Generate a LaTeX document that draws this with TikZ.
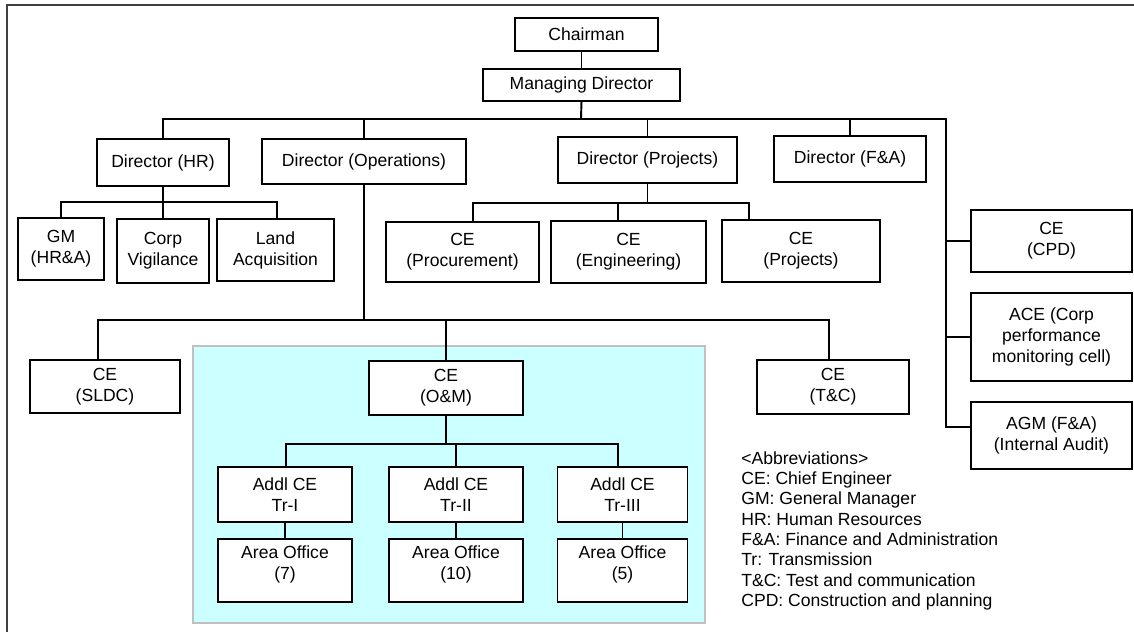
\documentclass[tikz,border=0pt]{standalone}
\usepackage{fontspec}
\setmainfont{Liberation Sans}
\definecolor{omcyan}{HTML}{CCFFFF}
\definecolor{omedge}{HTML}{C0C0C0}
\begin{document}
\begin{tikzpicture}[x=0.02cm, y=-0.02cm,
    orgbox/.style = {rectangle,draw=black,line width=1.1pt,fill=white,align=center,inner sep=0pt,outer sep=0pt,font=\fontsize{10}{12}\selectfont},
    wh/.style 2 args = {minimum width=#1cm,minimum height=#2cm},
    link/.style = {draw=black,line width=1.1pt}]
\useasboundingbox (0,0) rectangle (1134,632);
\clip (0,0) rectangle (1134,632);
\draw[black!75,line width=0.8pt] (7,5) rectangle (1160,660);
% O&M panel
\draw[omedge,fill=omcyan,line width=1.2pt] (193,346) rectangle (705,623);

% top levels
\node[orgbox,wh={2.86}{0.66}] (chair) at (586.5,34.5) {Chairman};
\node[orgbox,wh={3.94}{0.64}] (md) at (581.5,85) {Managing Director};
\node[orgbox,wh={2.64}{0.94}] (dhr) at (163,162.5) {Director (HR)};
\node[orgbox,wh={4.08}{0.90}] (dops) at (364,161.5) {Director (Operations)};
\node[orgbox,wh={3.58}{0.92}] (dprj) at (647.5,160) {Director (Projects)};
\node[orgbox,wh={3.04}{0.92}] (dfa) at (850,159) {Director (F\&A)};

% under directors
\node[orgbox,wh={1.72}{1.24}] (gm) at (61,249) {GM\\(HR\&A)};
\node[orgbox,wh={1.84}{1.28}] (vig) at (163,251) {Corp\\Vigilance};
\node[orgbox,wh={2.34}{1.24}] (land) at (275.5,250) {Land\\Acquisition};
\node[orgbox,wh={3.06}{1.20}] (proc) at (462.5,252) {CE\\(Procurement)};
\node[orgbox,wh={3.10}{1.24}] (eng) at (628.5,252) {CE\\(Engineering)};
\node[orgbox,wh={3.16}{1.24}] (prj) at (801,251) {CE\\(Projects)};
\node[orgbox,wh={3.22}{1.24}] (cpd) at (1051.5,241) {CE\\(CPD)};
\node[orgbox,wh={3.22}{1.76}] (ace) at (1051.5,337) {ACE (Corp\\performance\\monitoring cell)};
\node[orgbox,wh={3.22}{1.34}] (agm) at (1051.5,435.5) {AGM (F\&A)\\(Internal Audit)};
\node[orgbox,wh={3.00}{1.06}] (sldc) at (105,386.5) {CE\\(SLDC)};
\node[orgbox,wh={3.08}{1.08}] (om) at (446,388) {CE\\(O\&M)};
\node[orgbox,wh={3.04}{1.08}] (tc) at (833,387) {CE\\(T\&C)};

\coordinate (topbus) at (581,119);
\coordinate (rtrunk) at (946,119);
\draw[link] (md.north |- chair.south) -- (md.north);
\draw[link] (md.south) -- (topbus);
\draw[link] (dhr.north) |- (rtrunk) |- ([yshift=0.17cm]agm.west);
\foreach \d in {dops, dprj, dfa}
    \draw[link] (\d.north) -- (\d.north |- topbus);
\foreach \r in {cpd, ace}
    \draw[link] (\r.west) -- (\r.west -| rtrunk);

% HR
\coordinate (hrl) at (62,202);
\coordinate (hrr) at (277,202);
\draw[link] (dhr.south) -- (dhr.south |- hrl);
\draw[link] (gm.north) |- (hrr) -- (hrr |- land.north);
\draw[link] (vig.north) -- (vig.north |- hrl);

% Projects
\coordinate (pjl) at (473,203);
\coordinate (pjm) at (618,203);
\coordinate (pjr) at (749,203);
\draw[link] (pjl |- proc.north) -- (pjl) -- (pjr) -- (pjr |- prj.north);
\draw[link] (pjm) -- (pjm |- eng.north);
\draw[link] (dprj.south) -- (dprj.south |- pjm);

% Operations
\coordinate (opl) at (98,320);
\coordinate (opr) at (829,320);
\draw[link] (opl |- sldc.north) -- (opl) -- (opr) -- (opr |- tc.north);
\draw[link] (dops.south) -- (dops.south |- opl);
\draw[link] (om.north) -- (om.north |- opl);

% O&M
\coordinate (oml) at (286,444);
\coordinate (omr) at (618,444);
\draw[link] (om.south) -- (om.south |- oml);
\foreach \t/\n/\x/\w [count=\i] in {I/7/285/2.68, II/10/456/2.68, III/5/622.5/2.60} {
    \node[orgbox,wh={\w}{1.10}] (tr\i) at (\x,494.5) {Addl CE\\Tr-\t};
    \node[orgbox,wh={\w}{1.26}] (area\i) at (\x,570.5) {Area Office\\(\n)\\[-3pt]\mbox{}};
    \draw[link] (tr\i.south) -- (area\i.north);
}
\draw[link] (oml |- tr1.north) -- (oml) -- (omr) -- (omr |- tr3.north);
\draw[link] (tr2.north) -- (tr2.north |- oml);

\node[anchor=north west,align=left,inner sep=0pt,font=\fontsize{10}{11.6}\selectfont] (abbr) at (741,451)
    {<Abbreviations>\\CE: Chief Engineer\\GM: General Manager\\HR: Human Resources\\F\&A: Finance and Administration\\Tr: Transmission\\T\&C: Test and communication\\CPD: Construction and planning};
\end{tikzpicture}
\end{document}
